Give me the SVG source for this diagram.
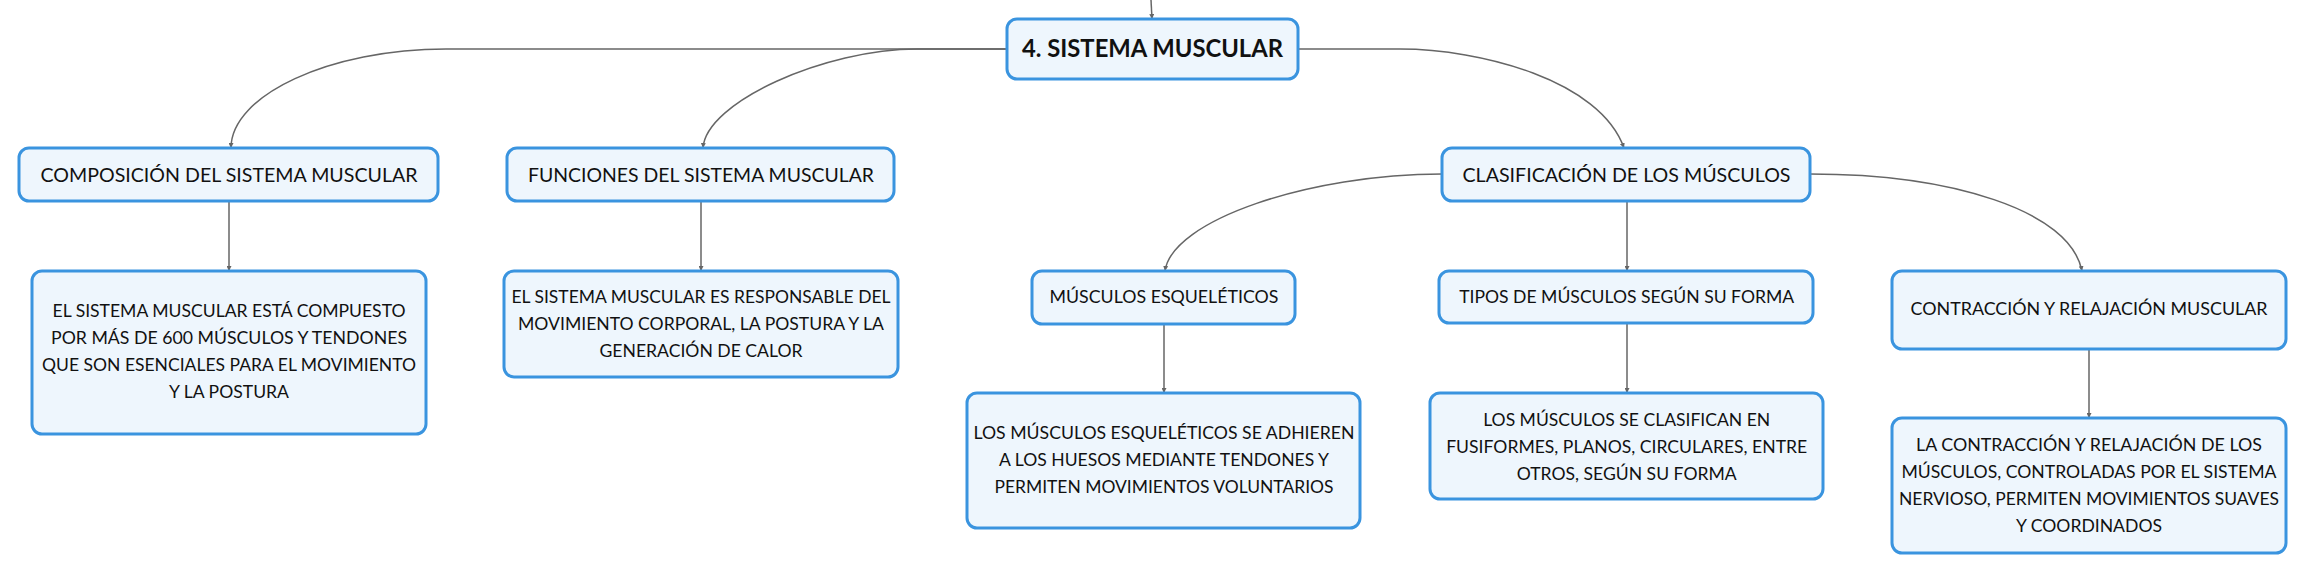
<svg xmlns="http://www.w3.org/2000/svg" width="2306" height="574" viewBox="0 0 2306 574">
<defs>
<marker id="ah" viewBox="0 0 6 6" refX="6" refY="3" markerWidth="5" markerHeight="5" markerUnits="userSpaceOnUse" orient="auto">
<path d="M0,0 L6,3 L0,6 z" fill="#666"/>
</marker>
<style>
.box{fill:#eef6fd;stroke:#3a94df;stroke-width:3}
.c{fill:none;stroke:#666;stroke-width:1.5;marker-end:url(#ah)}
text{font-family:Lato,"Noto Sans","Liberation Sans",sans-serif;fill:#111;text-anchor:middle}
.root{font-size:24px;font-weight:bold}
.h1{font-size:20px}
.h2{font-size:18px}
.b{font-size:17px}
</style>
</defs>
<rect width="2306" height="574" fill="#fff"/>
<g id="connectors">
<path class="c" d="M1151,0 L1152,19"/>
<path class="c" d="M1007,49 L446,49 C330,49 231,95 231,148"/>
<path class="c" d="M1007,49 L917,49 C825,49 706,102 703,148"/>
<path class="c" d="M1298,49 L1400,49 C1480,49 1600,80 1624,148"/>
<path class="c" d="M229,201 L229,271"/>
<path class="c" d="M701,201 L701,271"/>
<path class="c" d="M1442,174 C1310,174 1172,220 1165,271"/>
<path class="c" d="M1810,174 C1950,174 2070,210 2082,271"/>
<path class="c" d="M1627,201 L1627,271"/>
<path class="c" d="M1164,324 L1164,393"/>
<path class="c" d="M1627,323 L1627,393"/>
<path class="c" d="M2089,349 L2089,418"/>
</g>
<g id="root">
<rect class="box" x="1007" y="19" width="291" height="60" rx="10"/>
<text class="root" x="1152.5" y="57" textLength="261" lengthAdjust="spacingAndGlyphs">4. SISTEMA MUSCULAR</text>
</g>
<g id="composicion">
<rect class="box" x="19" y="148" width="419" height="53" rx="10"/>
<text class="h1" x="229" y="182" textLength="377" lengthAdjust="spacingAndGlyphs">COMPOSICIÓN DEL SISTEMA MUSCULAR</text>
</g>
<g id="composicion-desc">
<rect class="box" x="32" y="271" width="394" height="163" rx="10"/>
<text class="b" x="229" y="317" textLength="353" lengthAdjust="spacingAndGlyphs">EL SISTEMA MUSCULAR ESTÁ COMPUESTO</text>
<text class="b" x="229" y="344" textLength="356" lengthAdjust="spacingAndGlyphs">POR MÁS DE 600 MÚSCULOS Y TENDONES</text>
<text class="b" x="229" y="371" textLength="374" lengthAdjust="spacingAndGlyphs">QUE SON ESENCIALES PARA EL MOVIMIENTO</text>
<text class="b" x="229" y="398" textLength="120" lengthAdjust="spacingAndGlyphs">Y LA POSTURA</text>
</g>
<g id="funciones">
<rect class="box" x="507" y="148" width="387" height="53" rx="10"/>
<text class="h1" x="701" y="182" textLength="346" lengthAdjust="spacingAndGlyphs">FUNCIONES DEL SISTEMA MUSCULAR</text>
</g>
<g id="funciones-desc">
<rect class="box" x="504" y="271" width="394" height="106" rx="10"/>
<text class="b" x="701" y="303" textLength="379" lengthAdjust="spacingAndGlyphs">EL SISTEMA MUSCULAR ES RESPONSABLE DEL</text>
<text class="b" x="701" y="330" textLength="366" lengthAdjust="spacingAndGlyphs">MOVIMIENTO CORPORAL, LA POSTURA Y LA</text>
<text class="b" x="701" y="357" textLength="203" lengthAdjust="spacingAndGlyphs">GENERACIÓN DE CALOR</text>
</g>
<g id="clasificacion">
<rect class="box" x="1442" y="148" width="368" height="53" rx="10"/>
<text class="h1" x="1626.5" y="182" textLength="328" lengthAdjust="spacingAndGlyphs">CLASIFICACIÓN DE LOS MÚSCULOS</text>
</g>
<g id="esqueleticos">
<rect class="box" x="1032" y="271" width="263" height="53" rx="10"/>
<text class="h2" x="1164" y="303" textLength="229" lengthAdjust="spacingAndGlyphs">MÚSCULOS ESQUELÉTICOS</text>
</g>
<g id="esqueleticos-desc">
<rect class="box" x="967" y="393" width="393" height="135" rx="10"/>
<text class="b" x="1164" y="439" textLength="381" lengthAdjust="spacingAndGlyphs">LOS MÚSCULOS ESQUELÉTICOS SE ADHIEREN</text>
<text class="b" x="1164" y="466" textLength="330" lengthAdjust="spacingAndGlyphs">A LOS HUESOS MEDIANTE TENDONES Y</text>
<text class="b" x="1164" y="493" textLength="339" lengthAdjust="spacingAndGlyphs">PERMITEN MOVIMIENTOS VOLUNTARIOS</text>
</g>
<g id="tipos">
<rect class="box" x="1439" y="271" width="374" height="52" rx="10"/>
<text class="h2" x="1626.7" y="303" textLength="335" lengthAdjust="spacingAndGlyphs">TIPOS DE MÚSCULOS SEGÚN SU FORMA</text>
</g>
<g id="tipos-desc">
<rect class="box" x="1430" y="393" width="393" height="106" rx="10"/>
<text class="b" x="1626.7" y="426" textLength="287" lengthAdjust="spacingAndGlyphs">LOS MÚSCULOS SE CLASIFICAN EN</text>
<text class="b" x="1626.7" y="453" textLength="361" lengthAdjust="spacingAndGlyphs">FUSIFORMES, PLANOS, CIRCULARES, ENTRE</text>
<text class="b" x="1626.7" y="480" textLength="220" lengthAdjust="spacingAndGlyphs">OTROS, SEGÚN SU FORMA</text>
</g>
<g id="contraccion">
<rect class="box" x="1892" y="271" width="394" height="78" rx="10"/>
<text class="h2" x="2089" y="315" textLength="357" lengthAdjust="spacingAndGlyphs">CONTRACCIÓN Y RELAJACIÓN MUSCULAR</text>
</g>
<g id="contraccion-desc">
<rect class="box" x="1892" y="418" width="394" height="135" rx="10"/>
<text class="b" x="2089" y="451" textLength="346" lengthAdjust="spacingAndGlyphs">LA CONTRACCIÓN Y RELAJACIÓN DE LOS</text>
<text class="b" x="2089" y="478" textLength="375" lengthAdjust="spacingAndGlyphs">MÚSCULOS, CONTROLADAS POR EL SISTEMA</text>
<text class="b" x="2089" y="505" textLength="380" lengthAdjust="spacingAndGlyphs">NERVIOSO, PERMITEN MOVIMIENTOS SUAVES</text>
<text class="b" x="2089" y="532" textLength="146" lengthAdjust="spacingAndGlyphs">Y COORDINADOS</text>
</g>
</svg>
